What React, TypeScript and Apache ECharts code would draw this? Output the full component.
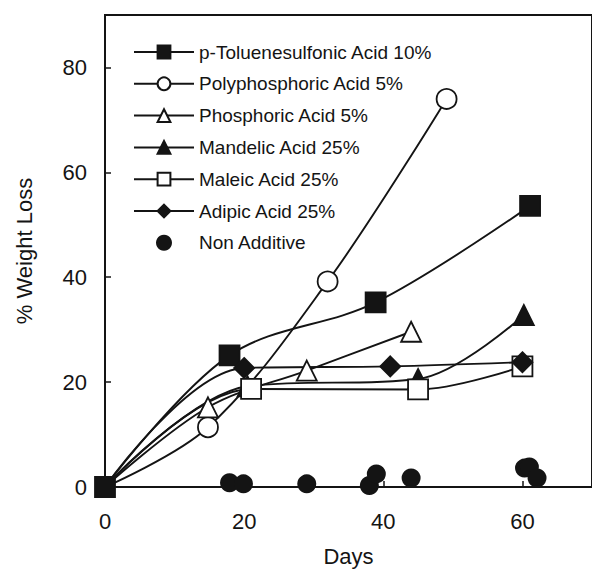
import React, { useEffect, useRef } from "react";
import * as echarts from "echarts";

const FONT = "'Liberation Sans', Arial, sans-serif";
const INK = "#141414";

// Series names (legend order)
const seriesNames = [
  "p-Toluenesulfonic Acid 10%",
  "Polyphosphoric Acid 5%",
  "Phosphoric Acid 5%",
  "Mandelic Acid 25%",
  "Maleic Acid 25%",
  "Adipic Acid 25%",
  "Non Additive",
];

// Data (days, % weight loss)
const ptsaDays = [0, 17.9, 38.9, 61.1];
const ptsaVals = [0, 25.1, 35.2, 53.6];

const polyDays = [0, 14.8, 32.0, 49.1];
const polyVals = [0, 11.4, 39.2, 74.0];

const phosDays = [0, 14.8, 29.0, 44.0];
const phosVals = [0, 15.2, 22.2, 29.6];

const mandDays = [0, 20.5, 45.0, 60.2];
const mandVals = [0, 19.2, 20.6, 32.8];

const malDays = [0, 21.0, 45.0, 60.0];
const malVals = [0, 18.7, 18.6, 23.0];

const adiDays = [0, 20.0, 41.0, 60.0];
const adiVals = [0, 22.7, 23.0, 23.8];

const nonDays = [17.9, 19.9, 29.0, 38.0, 39.0, 44.0, 60.3, 61.0, 62.1];
const nonVals = [0.8, 0.6, 0.6, 0.3, 2.5, 1.7, 3.6, 3.8, 1.7];

// Axis ticks
const xMin = 0;
const xMax = 70;
const xStep = 20;
const yMin = 0;
const yMax = 90;
const yStep = 20;

function pairs(xs: number[], ys: number[], hideFirst: boolean) {
  return xs.map((x, i) =>
    hideFirst && i === 0 ? { value: [x, ys[i]], symbol: "none" } : { value: [x, ys[i]] }
  );
}

function lineSeries(
  name: string,
  xs: number[],
  ys: number[],
  symbol: string,
  fill: string,
  hideFirst: boolean
) {
  return {
    name,
    type: "line",
    data: pairs(xs, ys, hideFirst),
    smooth: 0.35,
    symbol,
    symbolSize: 20,
    showAllSymbol: true,
    clip: false,
    lineStyle: { color: INK, width: 1.9 },
    itemStyle: { color: fill, borderColor: INK, borderWidth: 1.8, opacity: 1 },
    emphasis: { disabled: true },
  };
}

export default function App() {
  const ref = useRef<HTMLDivElement>(null);

  useEffect(() => {
    if (!ref.current) return;
    const chart = echarts.init(ref.current, null, { renderer: "svg" });
    const axisText = { fontSize: 22, color: INK, fontFamily: FONT };
    const option = {
      animation: false,
      backgroundColor: "#ffffff",
      textStyle: { fontFamily: FONT },
      grid: {
        left: 105,
        top: 15,
        width: 495.6,
        height: 473.3,
        show: true,
        borderColor: INK,
        borderWidth: 2,
        backgroundColor: "transparent",
      },
      legend: {
        orient: "vertical",
        left: 128,
        top: 37,
        itemWidth: 60,
        itemHeight: 16,
        itemGap: 11.8,
        data: seriesNames,
        selectedMode: false,
        textStyle: { fontSize: 19, lineHeight: 20, color: INK, fontFamily: FONT },
      },
      xAxis: {
        type: "value",
        min: xMin,
        max: xMax,
        interval: xStep,
        name: "Days",
        nameLocation: "middle",
        nameGap: 58,
        nameTextStyle: axisText,
        axisLine: { lineStyle: { color: INK, width: 2 } },
        axisTick: { inside: true, length: 6, lineStyle: { color: INK, width: 1.5 } },
        axisLabel: { ...axisText, margin: 23, showMaxLabel: false },
        splitLine: { show: false },
      },
      yAxis: {
        type: "value",
        min: yMin,
        max: yMax,
        interval: yStep,
        name: "% Weight Loss",
        nameLocation: "middle",
        nameRotate: 90,
        nameGap: 70,
        nameTextStyle: axisText,
        axisLine: { lineStyle: { color: INK, width: 2 } },
        axisTick: { inside: true, length: 6, lineStyle: { color: INK, width: 1.5 } },
        axisLabel: { ...axisText, margin: 18, showMaxLabel: false },
        splitLine: { show: false },
      },
      series: [
        lineSeries(seriesNames[0], ptsaDays, ptsaVals, "rect", INK, false),
        lineSeries(seriesNames[1], polyDays, polyVals, "circle", "#ffffff", true),
        lineSeries(seriesNames[2], phosDays, phosVals, "triangle", "#ffffff", true),
        lineSeries(seriesNames[3], mandDays, mandVals, "triangle", INK, true),
        lineSeries(seriesNames[4], malDays, malVals, "rect", "#ffffff", true),
        lineSeries(seriesNames[5], adiDays, adiVals, "diamond", INK, true),
        {
          name: seriesNames[6],
          type: "scatter",
          data: nonDays.map((d, i) => [d, nonVals[i]]),
          symbol: "circle",
          symbolSize: 19,
          clip: false,
          itemStyle: { color: INK, opacity: 1 },
          emphasis: { disabled: true },
        },
      ],
    };
    chart.setOption(option as any);
    return () => chart.dispose();
  }, []);

  return (
    <div
      ref={ref}
      style={{ position: "fixed", left: 0, top: 0, width: 592, height: 572, background: "#fff" }}
    />
  );
}
